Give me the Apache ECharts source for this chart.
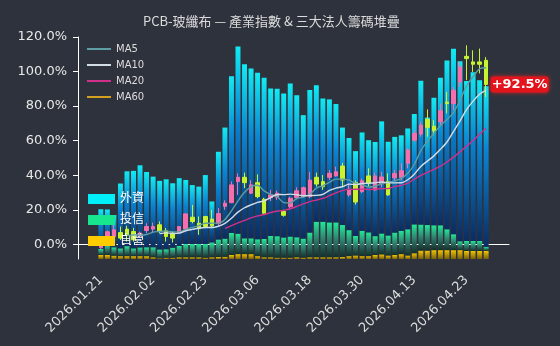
<!DOCTYPE html>
<html><head><meta charset="utf-8">
<script src="https://cdn.jsdelivr.net/npm/echarts@6/dist/echarts.min.js"></script>
<style>html,body{margin:0;padding:0;background:#2d323c}#c{width:560px;height:346px}</style>
</head><body><div id="c"></div>
<script>
const dates = ['2026.01.21','2026.01.22','2026.01.23','2026.01.26','2026.01.27','2026.01.28','2026.01.29','2026.01.30',
 '2026.02.02','2026.02.03','2026.02.04','2026.02.05','2026.02.06','2026.02.09','2026.02.10','2026.02.11',
 '2026.02.23','2026.02.24','2026.02.25','2026.02.26','2026.03.02','2026.03.03','2026.03.04','2026.03.05',
 '2026.03.06','2026.03.09','2026.03.10','2026.03.11','2026.03.12','2026.03.13','2026.03.16','2026.03.17',
 '2026.03.18','2026.03.19','2026.03.20','2026.03.23','2026.03.24','2026.03.25','2026.03.26','2026.03.27',
 '2026.03.30','2026.03.31','2026.04.01','2026.04.02','2026.04.07','2026.04.08','2026.04.09','2026.04.10',
 '2026.04.13','2026.04.14','2026.04.15','2026.04.16','2026.04.17','2026.04.20','2026.04.21','2026.04.22',
 '2026.04.23','2026.04.24','2026.04.27','2026.04.28'];
// cumulative index change (%)
const openV  = [-2.0,0.7,4.5,6.8,8.8,7.4,4.9,8.0,8.8,11.3,7.8,6.5,6.8,8.8,15.7,12.2,16.1,14.6,12.0,22.0,
 24.1,36.3,38.8,29.6,35.7,26.1,27.0,27.3,19.0,21.8,27.0,27.6,27.6,38.8,36.3,38.8,39.6,45.3,28.6,35.7,
 30.5,39.6,31.5,35.0,36.3,38.5,38.8,46.9,60.3,63.8,72.3,68.4,70.9,82.3,81.5,94.0,108.8,105.6,105.6,106.5];
const closeV = [0.3,7.3,8.4,3.6,5.5,2.6,6.5,10.3,10.3,7.4,4.5,3.6,10.3,17.6,13.2,9.4,10.3,10.7,17.8,23.8,
 34.4,38.8,35.7,34.4,27.6,18.0,28.6,29.6,16.8,26.7,31.0,32.8,37.2,34.9,33.4,41.1,42.0,37.2,31.9,24.5,
 36.8,35.3,39.6,39.0,28.6,41.0,42.6,54.6,64.2,69.0,67.7,65.7,77.3,81.5,89.2,102.7,107.5,104.2,104.2,92.5];
const lowV   = [-2.6,0.2,4.0,2.6,1.6,1.6,4.0,6.5,7.0,6.5,1.6,1.0,6.0,8.0,12.2,5.5,9.4,9.4,11.0,20.0,
 23.8,28.6,32.5,29.2,26.7,17.3,25.0,25.7,16.0,20.0,26.0,27.0,26.7,33.4,31.5,37.2,39.2,33.4,27.6,23.0,
 29.6,33.4,30.9,33.0,28.0,37.0,37.0,44.0,59.4,62.3,62.3,63.2,69.0,75.8,77.7,91.1,95.0,99.8,98.9,85.3];
const highV  = [0.8,8.0,12.2,10.3,10.7,9.5,7.4,12.2,12.6,13.3,9.5,7.4,10.7,18.0,22.8,16.1,16.5,19.9,21.0,25.5,
 36.4,41.1,41.5,37.2,40.5,26.9,31.5,31.1,20.0,27.6,33.0,33.4,42.0,41.5,40.1,43.0,44.9,47.2,35.3,37.0,
 38.0,44.0,41.5,42.0,41.1,43.0,46.9,55.6,66.1,70.9,78.1,71.9,81.5,88.2,91.1,105.6,115.2,112.3,113.3,108.4];
// institutional chip stack (relative units)
const foreignV = [17.9,15.6,14.5,29.2,33.7,34.9,37.0,33.9,31.8,30.9,31.5,29.0,30.5,28.8,26.5,25.8,31.0,18.4,39.5,50.0,
 70.6,84.3,78.4,76.5,75.0,72.7,66.4,66.4,64.8,68.9,64.0,55.6,64.2,61.5,55.5,55.4,53.3,43.9,41.5,38.2,
 44.3,41.5,42.4,50.5,42.2,43.1,43.0,45.4,49.7,64.8,48.4,57.4,66.4,76.0,83.5,81.1,72.1,76.0,72.4,72.3];
const trustV = [2.7,4.9,3.8,3.5,4.5,3.5,3.9,4.0,4.5,4.0,3.8,4.5,5.1,6.0,6.0,6.0,6.2,6.7,7.9,8.2,
 9.9,9.2,7.1,7.1,7.6,8.2,9.6,9.7,9.1,9.5,9.0,8.6,11.1,16.0,16.0,15.7,15.7,14.4,11.7,8.8,
 11.4,10.7,8.5,9.4,9.0,10.1,10.5,11.8,13.0,11.7,11.5,11.2,11.2,9.4,7.2,4.0,4.5,4.5,4.5,1.9];
const dealerV = [1.8,1.8,1.5,1.3,1.3,1.3,1.3,1.3,0.8,0.3,0.6,0.6,0.8,0.8,0.8,0.8,0.6,0.8,0.9,1.0,
 1.8,2.2,2.2,2.2,1.3,0.8,0.8,0.6,0.6,0.6,0.8,0.6,0.8,0.8,0.8,0.8,0.8,0.9,1.3,1.6,
 1.3,1.3,1.8,2.1,1.6,1.8,2.2,1.6,2.6,3.8,3.8,4.0,4.0,4.0,4.0,4.0,3.6,3.6,3.6,3.6];
const yTicks = [0,20,40,60,80,100,120];
const maNames = ['MA5','MA10','MA20','MA60'];
const maPeriods = [5,10,20,60];
const maColors = ['#5c9ea3','#d2dde8','#d0308a','#d4a020'];
const chipNames = ['外資','投信','自營'];

const PAD = 3;
const blanks = v => Array(PAD).fill(v);
const pad = arr => [...blanks('-'), ...arr, ...blanks('-')];
const xData = [...blanks(''), ...dates, ...blanks('')];
const kData = pad(dates.map((d,i)=>[openV[i], closeV[i], lowV[i], highV[i]]));
function ma(n){
  return closeV.map((c,i)=> i < n-1 ? '-' : +(closeV.slice(i-n+1,i+1).reduce((a,b)=>a+b,0)/n).toFixed(2));
}
const showIdx = (idx, val) => val !== '' && (idx - PAD) % 8 === 0;
const grad = stops => new echarts.graphic.LinearGradient(0,0,0,1, stops.map(c=>({offset:c[0], color:c[1]})));

const chart = echarts.init(document.getElementById('c'), null, {renderer:'canvas'});
const lastIdx = PAD + dates.length - 1;
const lastClose = closeV[closeV.length-1];
const FONT = '"DejaVu Sans", "Noto Sans CJK TC", sans-serif';
chart.setOption({
  backgroundColor:'#2d323c',
  animation:false,
  textStyle:{fontFamily:FONT},
  title:{text:'PCB-玻纖布 — 產業指數 & 三大法人籌碼堆疊', left:143, top:15, padding:0,
    textStyle:{color:'#dcdcdc', fontSize:13, fontWeight:'normal', fontFamily:'"Noto Sans CJK TC", sans-serif'}},
  grid:{left:78, right:51, top:37, bottom:87},
  legend:[
    {data:maNames.map(n=>({name:n, icon:'rect'})), orient:'vertical', left:87, top:43, padding:0,
     itemWidth:24, itemHeight:2, itemGap:4,
     textStyle:{color:'#dddddd', fontSize:10, lineHeight:12, fontFamily:FONT}},
    {data:chipNames.map((n,i)=>({name:n, itemStyle:{color:['#00f0fa','#18e68e','#ffcc00'][i]}})),
     orient:'vertical', left:88, top:193, padding:0, itemWidth:27, itemHeight:10, itemGap:9, icon:'rect',
     textStyle:{color:'#ffffff', fontSize:12, lineHeight:10}}
  ],
  xAxis:{type:'category', data:xData, boundaryGap:true,
    axisLine:{lineStyle:{color:'#ffffff', width:1}},
    axisTick:{alignWithLabel:true, interval:showIdx, length:5, lineStyle:{color:'#ffffff'}},
    axisLabel:{interval:showIdx, rotate:45, margin:19, color:'#dddddd', fontSize:13, fontFamily:FONT},
    splitLine:{show:false}},
  yAxis:[
    {type:'value', min:-8.5, max:120, position:'left',
     axisLine:{show:true, lineStyle:{color:'#ffffff'}},
     axisTick:{show:true, length:5, customValues:yTicks, lineStyle:{color:'#ffffff'}},
     axisLabel:{customValues:yTicks, color:'#e8e8e8', fontSize:13, margin:11, fontFamily:FONT,
       formatter:v=>v.toFixed(1)+'%'},
     splitLine:{show:false}},
    {type:'value', min:0, max:100, show:false, splitLine:{show:false}}
  ],
  series:[
    {name:'自營', type:'bar', yAxisIndex:1, stack:'chips', barWidth:'76%', z:1, data:pad(dealerV),
     itemStyle:{color:grad([[0,'#f2c400'],[1,'#7a6108']])}},
    {name:'投信', type:'bar', yAxisIndex:1, stack:'chips', barWidth:'76%', z:1, data:pad(trustV),
     itemStyle:{color:grad([[0,'#22e89a'],[0.5,'#2f7d6c'],[1,'#12302a']])}},
    {name:'外資', type:'bar', yAxisIndex:1, stack:'chips', barWidth:'76%', z:1, data:pad(foreignV),
     itemStyle:{color:grad([[0,'#12eaf2'],[0.4,'#0a84d2'],[1,'#0b2c62']])}},
    {name:'K', type:'candlestick', z:3, barWidth:'62%', data:kData,
     itemStyle:{color:'#f46fb0', color0:'#c6f432', borderColor:'#f46fb0', borderColor0:'#c6f432', borderWidth:1},
     markPoint:{symbol:'circle', symbolSize:1, itemStyle:{color:'rgba(0,0,0,0)'},
       data:[{coord:[lastIdx, lastClose], value:lastClose}],
       label:{show:true, position:'right', distance:4, formatter:()=>'+'+lastClose.toFixed(1)+'%',
         color:'#ffffff', fontWeight:'bold', fontSize:13, fontFamily:FONT, backgroundColor:'#e3141c', borderRadius:3,
         padding:[2,1,1,1], shadowColor:'rgba(255,30,30,0.8)', shadowBlur:4}}},
    ...maNames.map((n,k)=>({name:n, type:'line', z:4, data:pad(ma(maPeriods[k])), symbol:'none', smooth:0.3,
      lineStyle:{color:maColors[k], width:1.4}, itemStyle:{color:maColors[k]}}))
  ]
});
</script></body></html>
